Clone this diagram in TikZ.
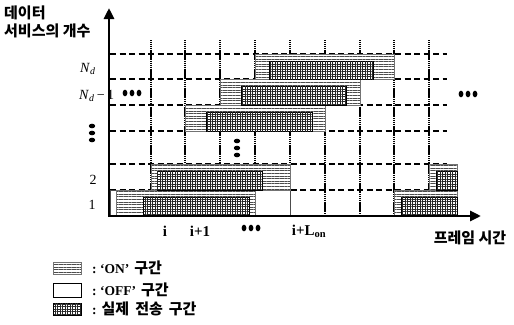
\documentclass[tikz,border=0pt]{standalone}
\usepackage{fontspec}
\setmainfont{Liberation Serif}
\newfontfamily\kr{Noto Sans CJK KR}
\usetikzlibrary{arrows.meta, patterns.meta}
\tikzset{
    frameLine/.style={
        line width=1.5pt,
        dash pattern=on 1.4pt off 0.5pt
    },
    levelLine/.style={
        line width=1.7pt,
        dash pattern=on 6pt off 3.5pt
    },
    axisLine/.style={
        line width=2.8pt,
        {Triangle[length=11pt, width=10pt]}-{Triangle[length=11pt, width=10pt]}
    },
    onBox/.style={
        draw=black!55,
        line width=0.6pt,
        preaction={fill=white},
        pattern={Lines[distance=2.6pt, line width=0.5pt]},
        pattern color=black!70
    },
    offBox/.style={
        draw=black!70,
        line width=0.6pt,
        fill=white
    },
    sendBox/.style={
        draw=black,
        line width=0.8pt,
        preaction={fill=white},
        pattern={Lines[angle=0, distance=2.5pt, line width=0.8pt]},
        pattern color=black!85,
        postaction={pattern={Lines[angle=90, distance=2.5pt, line width=0.8pt]}, pattern color=black!85}
    },
    krText/.style={
        font=\kr\bfseries\fontsize{15}{17}\selectfont,
        inner sep=0pt
    },
    tickText/.style={
        font=\bfseries\fontsize{15}{17}\selectfont,
        inner sep=0pt
    },
    rowText/.style={
        font=\fontsize{14}{16}\selectfont,
        inner sep=0pt
    },
    legText/.style={
        font=\bfseries\fontsize{13.5}{16}\selectfont,
        inner sep=0pt
    }
}

\begin{document}
\begin{tikzpicture}[x=1pt, y=-1pt]
        \useasboundingbox (0,0) rectangle (514,324);

        % Coordinate Definitions
        \coordinate (O) at (109,216);     % Origin
        \coordinate (yTop) at (109,8);    % Top of vertical axis
        \coordinate (xEnd) at (481,216);  % End of time axis

        % Frame lines (dotted) and service levels (dashed)
        \foreach \xv in {151,185,220,255,290,325,360,394,429} {
            \draw[frameLine] (\xv,40) -- (\xv,216);
        }
        \foreach \yv in {54,79,105,131,164,190} {
            \draw[levelLine] (110,\yv) -- (447,\yv);
        }

        % Macro for one ON period with its transmission part
        \def\drawOnPeriod#1#2#3#4#5#6{
            \draw[onBox] (#1,#2) rectangle (#3,#4);
            \draw[sendBox] (#5,{#2+7}) rectangle (#6,#4);
        }

        % OFF periods
        \draw[offBox] (110,190) rectangle (116,216);
        \draw[offBox] (255,190) rectangle (290,216);

        % ON periods
        \drawOnPeriod{116}{190}{255}{216}{143}{249}
        \drawOnPeriod{151}{164}{290}{190}{157}{262}
        \drawOnPeriod{185}{105}{325}{131}{206}{312}
        \drawOnPeriod{220}{79}{360}{105}{241}{346}
        \drawOnPeriod{255}{54}{394}{79}{269}{373}
        \drawOnPeriod{394}{190}{457}{216}{401}{457}
        \drawOnPeriod{429}{164}{457}{190}{436}{457}

        % Axes
        \draw[axisLine] (yTop) -- (O) -- (xEnd);

        % Continuation dots
        \foreach \cx/\cy in {132/93, 468/94, 251/228} {
            \foreach \k in {-7,0,7} {
                \fill (\cx+\k,\cy) ellipse (2.4 and 3.3);
            }
        }
        \foreach \cx/\cy in {92/133, 237/148} {
            \foreach \k in {-7,0,7} {
                \fill (\cx,\cy+\k) ellipse (3.2 and 2.3);
            }
        }

        % Axis titles
        \node[krText, anchor=west] (yTitleA) at (4,13) {데이터};
        \node[krText, anchor=west] (yTitleB) at (4,31) {서비스의 개수};
        \node[krText] (xTitle) at (470,238) {프레임 시간};

        % Service labels
        \node[rowText, anchor=west] (rowNd) at (80,69) {\textit{N}\textsubscript{\textit{d}}};
        \node[rowText, anchor=west] (rowNdm) at (79,96) {\textit{N}\textsubscript{\textit{d}}\,−\,1};
        \node[rowText] (rowTwo) at (93,180) {2};
        \node[rowText] (rowOne) at (92,205) {1};

        % Frame labels
        \node[tickText] (tickI) at (165,231) {i};
        \node[tickText] (tickINext) at (200,231) {i+1};
        \node[tickText] (tickIOn) at (309,231) {i+L\textsubscript{on}};

        % Legend
        \draw[onBox] (53,262) rectangle (81,274);
        \draw[offBox, draw=black] (53,283) rectangle (81,297);
        \draw[sendBox] (53,303) rectangle (81,315);
        \node[legText, anchor=west] (legOn) at (92,268) {:\ ‘ON’\hspace{5pt}{\kr\fontsize{15}{17}\selectfont 구간}};
        \node[legText, anchor=west] (legOff) at (92,290) {:\ ‘OFF’\hspace{5pt}{\kr\fontsize{15}{17}\selectfont 구간}};
        \node[legText, anchor=west] (legSend) at (92,309) {:\hspace{5pt}{\kr\fontsize{15}{17}\selectfont 실제\hspace{6pt}전송\hspace{6pt}구간}};

    \end{tikzpicture}
\end{document}
